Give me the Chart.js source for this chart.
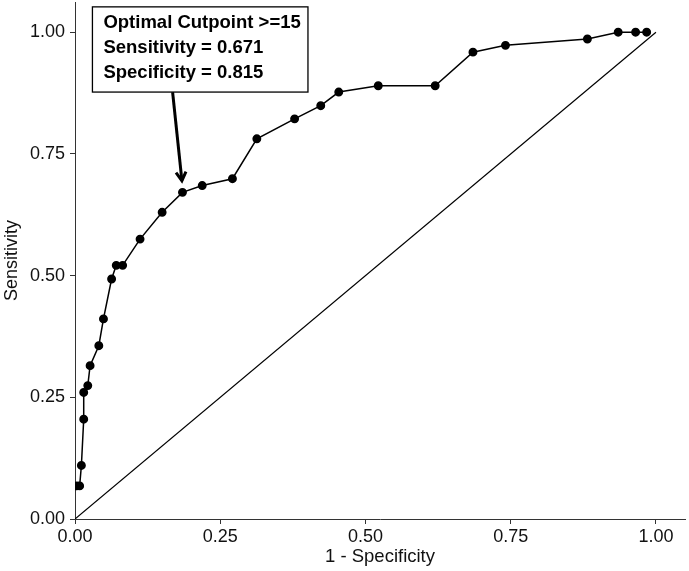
<!DOCTYPE html>
<html>
<head>
<meta charset="utf-8">
<script src="https://cdn.jsdelivr.net/npm/chart.js@4"></script>
<style>
  html, body { margin: 0; padding: 0; background: #fff; }
  #wrap { width: 689px; height: 571px; }
</style>
</head>
<body>
<div id="wrap"><canvas id="rocChart"></canvas></div>
<script>
// ROC curve points (1 - specificity, sensitivity)
const fpr = [0.003, 0.008, 0.011, 0.015, 0.015, 0.022, 0.026, 0.041, 0.049, 0.063,
             0.071, 0.082, 0.112, 0.150, 0.185, 0.219, 0.271, 0.313, 0.378, 0.423,
             0.454, 0.522, 0.620, 0.685, 0.741, 0.882, 0.935, 0.965, 0.984];
const tpr = [0.068, 0.068, 0.110, 0.205, 0.260, 0.274, 0.315, 0.356, 0.411, 0.493,
             0.521, 0.521, 0.575, 0.630, 0.671, 0.685, 0.699, 0.781, 0.822, 0.849,
             0.877, 0.890, 0.890, 0.959, 0.973, 0.986, 1.000, 1.000, 1.000];

// reference diagonal
const diagX = [0, 1];
const diagY = [0, 1];

const tickValues = [0, 0.25, 0.5, 0.75, 1];

const noteLines = ["Optimal Cutpoint >=15", "Sensitivity = 0.671", "Specificity = 0.815"];
// label box corners and arrow ends, in data units
const noteBox = { x0: 0.030, y0: 1.052, x1: 0.401, y1: 0.877 };
const noteArrow = { x0: 0.168, y0: 0.877, x1: 0.184, y1: 0.695 };

const FONT = "'Liberation Sans', Arial, sans-serif";

const annotationPlugin = {
    id: "note",
    afterDatasetsDraw(chart) {
        const { ctx, scales: { x, y } } = chart;
        ctx.save();
        // arrow
        const ax0 = x.getPixelForValue(noteArrow.x0), ay0 = y.getPixelForValue(noteArrow.y0);
        const ax1 = x.getPixelForValue(noteArrow.x1), ay1 = y.getPixelForValue(noteArrow.y1);
        ctx.strokeStyle = "#000";
        ctx.lineWidth = 3;
        ctx.beginPath();
        ctx.moveTo(ax0, ay0);
        ctx.lineTo(ax1, ay1);
        ctx.stroke();
        const ang = Math.atan2(ay1 - ay0, ax1 - ax0);
        const head = 10;
        ctx.beginPath();
        ctx.moveTo(ax1 - head * Math.cos(ang - Math.PI / 6), ay1 - head * Math.sin(ang - Math.PI / 6));
        ctx.lineTo(ax1, ay1);
        ctx.lineTo(ax1 - head * Math.cos(ang + Math.PI / 6), ay1 - head * Math.sin(ang + Math.PI / 6));
        ctx.stroke();

        // label box
        const bx0 = x.getPixelForValue(noteBox.x0), by0 = y.getPixelForValue(noteBox.y0);
        const bx1 = x.getPixelForValue(noteBox.x1), by1 = y.getPixelForValue(noteBox.y1);
        ctx.fillStyle = "#fff";
        ctx.fillRect(bx0, by0, bx1 - bx0, by1 - by0);
        ctx.lineWidth = 1.3;
        ctx.strokeRect(bx0, by0, bx1 - bx0, by1 - by0);

        ctx.fillStyle = "#000";
        ctx.font = "bold 18.5px " + FONT;
        ctx.textBaseline = "alphabetic";
        noteLines.forEach((t, i) => {
            ctx.fillText(t, bx0 + 11, by0 + 21 + i * 25.3);
        });
        ctx.restore();
    }
};

const axisCommon = {
    type: "linear",
    grid: { drawOnChartArea: false, drawTicks: true, tickLength: 5, color: "#333", lineWidth: 1 },
    border: { display: true, color: "#333", width: 1 },
    afterBuildTicks(scale) {
        scale.ticks = tickValues.map(v => ({ value: v }));
    }
};

new Chart(document.getElementById("rocChart"), {
    type: "scatter",
    data: {
        datasets: [
            {
                label: "ROC",
                data: fpr.map((v, i) => ({ x: v, y: tpr[i] })),
                showLine: true,
                borderColor: "#000",
                backgroundColor: "#000",
                borderWidth: 1.5,
                pointRadius: 3.7,
                pointHoverRadius: 3.7,
                order: 1
            },
            {
                label: "Reference",
                data: diagX.map((v, i) => ({ x: v, y: diagY[i] })),
                showLine: true,
                borderColor: "#000",
                borderWidth: 1.2,
                pointRadius: 0,
                order: 2
            }
        ]
    },
    options: {
        responsive: true,
        maintainAspectRatio: false,
        animation: false,
        events: [],
        layout: { autoPadding: false, padding: { top: 2, right: 4, left: 0, bottom: 0 } },
        plugins: {
            legend: { display: false },
            tooltip: { enabled: false }
        },
        scales: {
            x: {
                ...axisCommon,
                min: 0,
                max: 1.05,
                ticks: {
                    color: "#111",
                    font: { family: FONT, size: 18 },
                    padding: 2,
                    maxRotation: 0,
                    callback: v => v.toFixed(2)
                },
                title: {
                    display: true,
                    text: "1 - Specificity",
                    color: "#111",
                    font: { family: FONT, size: 18.5 },
                    padding: { top: 0, bottom: 3 }
                },
                afterFit(scale) {
                    scale.height = 52;
                    scale.paddingLeft = 0;
                    scale.paddingRight = 0;
                }
            },
            y: {
                ...axisCommon,
                min: 0,
                max: 1.062,
                ticks: {
                    color: "#111",
                    font: { family: FONT, size: 18 },
                    padding: 5,
                    callback: v => v.toFixed(2)
                },
                title: {
                    display: true,
                    text: "Sensitivity",
                    color: "#111",
                    font: { family: FONT, size: 18 },
                    padding: { top: 1, bottom: 0 }
                },
                afterFit(scale) {
                    scale.width = 75;
                    scale.paddingTop = 0;
                    scale.paddingBottom = 0;
                }
            }
        }
    },
    plugins: [annotationPlugin]
});
</script>
</body>
</html>
